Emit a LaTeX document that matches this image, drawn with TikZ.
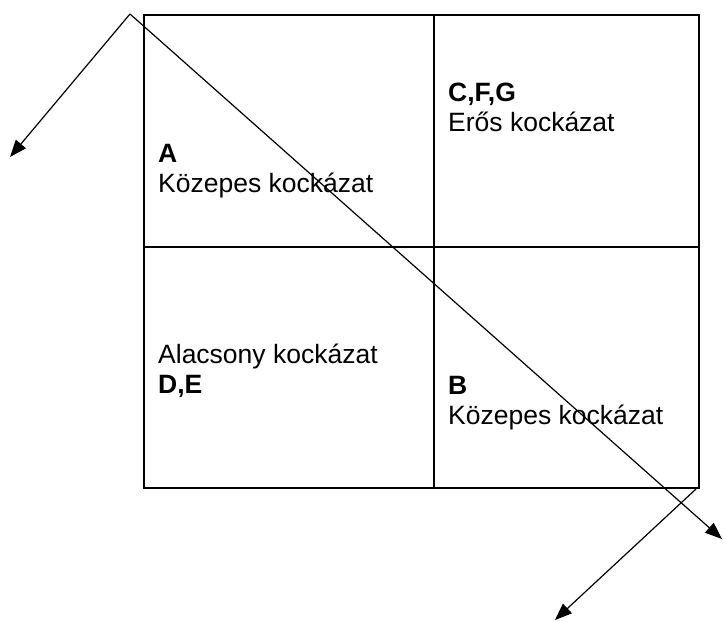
\documentclass[tikz,border=0pt]{standalone}
\usepackage{fontspec}
\setmainfont{Liberation Sans}
\usetikzlibrary{arrows.meta}

\begin{document}
\begin{tikzpicture}[x=1pt,y=-1pt,
    cell/.style={draw,line width=1.8pt,anchor=north west,inner sep=0pt},
    label/.style={anchor=base west,align=left,inner sep=0pt,
      font=\fontsize{26.5}{30}\selectfont},
    pointer/.style={line width=1.2pt,-{Triangle[length=17pt,width=13pt]}}]
  \useasboundingbox (0,0) rectangle (723,621);
  \node[cell,minimum width=290pt,minimum height=232pt] (topleft) at (143,14) {};
  \node[cell,minimum width=265pt,minimum height=232pt] (topright) at (433,14) {};
  \node[cell,minimum width=290pt,minimum height=241pt] (bottomleft) at (143,246) {};
  \node[cell,minimum width=265pt,minimum height=241pt] (bottomright) at (433,246) {};
  \node[label] (riskA) at (158,192) {\textbf{A}\\Közepes kockázat};
  \node[label] (riskCFG) at (448,131) {\textbf{C,F,G}\\Erős kockázat};
  \node[label] (riskDE) at (158,393) {Alacsony kockázat\\\textbf{D,E}};
  \node[label] (riskB) at (448,424) {\textbf{B}\\Közepes kockázat};
  \coordinate (apex) at (130,14);
  \coordinate (leftend) at (10,157);
  \coordinate (rightend) at (722,539);
  \coordinate (lowstart) at (696,489);
  \coordinate (lowend) at (555,620);
  \draw[pointer] (apex) -- (leftend);
  \draw[pointer] (apex) -- (rightend);
  \draw[pointer] (lowstart) -- (lowend);
\end{tikzpicture}
\end{document}
